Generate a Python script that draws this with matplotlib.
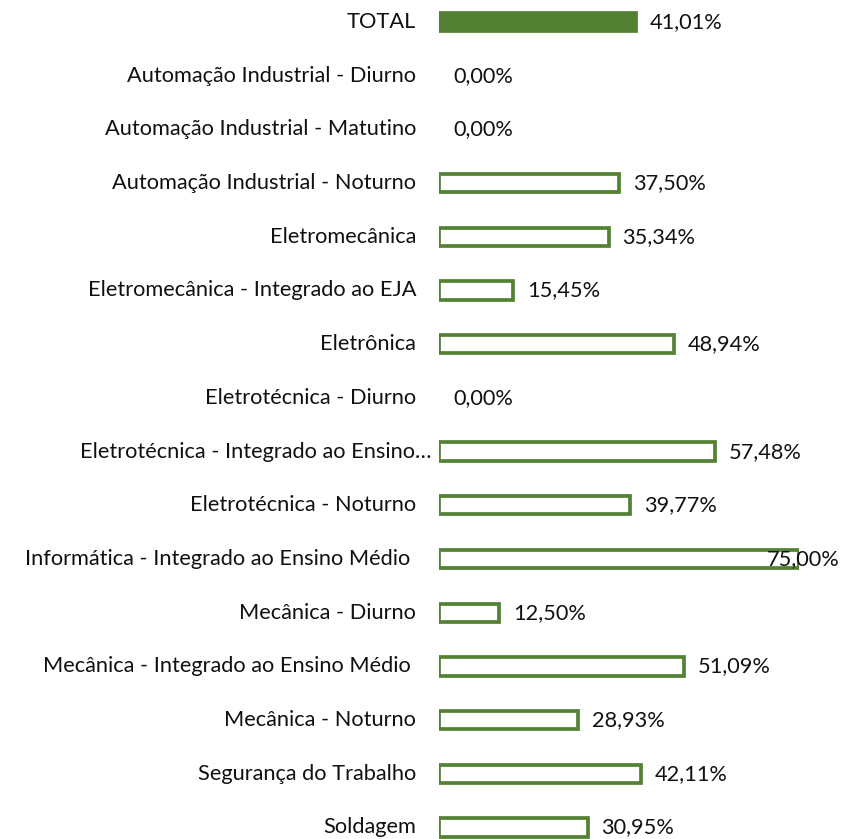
import matplotlib
matplotlib.use("Agg")
import matplotlib.pyplot as plt

plt.rcParams['font.family'] = ['Lato', 'DejaVu Sans']

categorias = [
    "TOTAL",
    "Automação Industrial - Diurno",
    "Automação Industrial - Matutino",
    "Automação Industrial - Noturno",
    "Eletromecânica",
    "Eletromecânica - Integrado ao EJA",
    "Eletrônica",
    "Eletrotécnica - Diurno",
    "Eletrotécnica - Integrado ao Ensino…",
    "Eletrotécnica - Noturno",
    "Informática - Integrado ao Ensino Médio ",
    "Mecânica - Diurno",
    "Mecânica - Integrado ao Ensino Médio ",
    "Mecânica - Noturno",
    "Segurança do Trabalho",
    "Soldagem",
]
valores = [41.01, 0.00, 0.00, 37.50, 35.34, 15.45, 48.94, 0.00, 57.48,
           39.77, 75.00, 12.50, 51.09, 28.93, 42.11, 30.95]

verde = "#548235"
fs = 15.7

fig = plt.figure(figsize=(8.46, 8.39), dpi=100)
# one row ~53.7 px, 0% at ~439 px, 75% at ~799 px
n = len(categorias)
row_px = 53.7
top_px = 22 - row_px / 2
ax_h = n * row_px
ax = fig.add_axes([439 / 846, 1 - (top_px + ax_h) / 839, 360 / 846, ax_h / 839])

ys = list(range(n))
faces = [verde if c == "TOTAL" else "white" for c in categorias]
edges = [verde if v > 0 else "none" for v in valores]
ax.barh(ys, valores, height=0.34, color=faces, edgecolor=edges, linewidth=2.7)

ax.set_xlim(0, 75)
ax.set_ylim(n - 0.5, -0.5)
ax.axis("off")

for y, v, c in zip(ys, valores, categorias):
    txt = f"{v:.2f}%".replace(".", ",")
    if v >= max(valores):
        ax.annotate(txt, xy=(0.993, y), xycoords=("figure fraction", "data"),
                    ha="right", va="center", fontsize=fs, color="#111111")
    else:
        ax.annotate(txt, xy=(v, y), xytext=(10, 0), textcoords="offset points",
                    ha="left", va="center", fontsize=fs, color="#111111")
    off = -5.5 if c.endswith("…") else -16.5
    ax.annotate(c, xy=(0, y), xytext=(off, 0), textcoords="offset points",
                xycoords=("axes fraction", "data"),
                ha="right", va="center", fontsize=fs, color="#111111")

fig.savefig("out.png", dpi=100)
